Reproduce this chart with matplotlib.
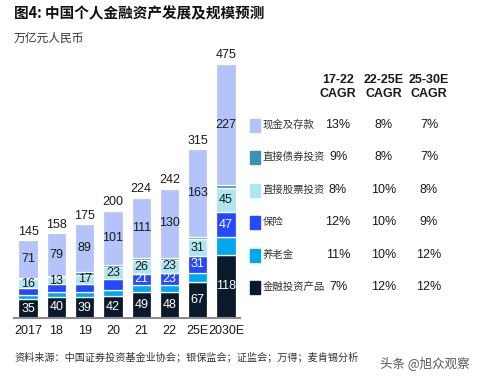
import matplotlib
matplotlib.use('Agg')
import matplotlib.pyplot as plt
import numpy as np

plt.rcParams['font.family'] = ['Liberation Sans', 'Noto Sans CJK SC', 'DejaVu Sans']

years = ['2017', '18', '19', '20', '21', '22', '25E', '2030E']
totals = [145, 158, 175, 200, 224, 242, 315, 475]

# stack order: bottom to top
fin_products = [35, 40, 39, 42, 49, 48, 67, 118]
pension = [8, 8, 9, 10, 13, 14, 18, 33]
insurance = [13, 15, 16, 21, 21, 23, 31, 47]
stocks = [16, 13, 17, 23, 26, 23, 31, 45]
bonds = [2, 3, 5, 3, 4, 4, 5, 5]
cash = [71, 79, 89, 101, 111, 130, 163, 227]

# which segment values get a label (None = no label)
ins_labels = [None, None, None, None, 21, 23, 31, 47]

legend_names = ['现金及存款', '直接债券投资', '直接股票投资', '保险', '养老金', '金融投资产品']
cagr_17_22 = ['13%', '9%', '8%', '12%', '11%', '7%']
cagr_22_25 = ['8%', '8%', '10%', '10%', '10%', '12%']
cagr_25_30 = ['7%', '7%', '8%', '9%', '12%', '12%']

c_cash = '#b4c4fb'
c_bond = '#3a93b0'
c_stock = '#ade6ee'
c_ins = '#2648ff'
c_pen = '#00a9ef'
c_fin = '#0b1a2b'

fig = plt.figure(figsize=(4.81, 3.81), dpi=100)
ax = fig.add_axes([0.0288, 0.1654, 0.4707, 0.702])

x = np.arange(len(years))
w = 0.68
series = [(fin_products, c_fin), (pension, c_pen), (insurance, c_ins),
          (stocks, c_stock), (bonds, c_bond), (cash, c_cash)]
bottom = np.zeros(len(years))
bottoms = []
for vals, col in series:
    ax.bar(x, vals, w, bottom=bottom, color=col, edgecolor='white', linewidth=0.9)
    bottoms.append(bottom.copy())
    bottom = bottom + np.array(vals)

lab_kw = dict(ha='center', va='center', fontsize=9)
for i in range(len(years)):
    ax.text(x[i], bottoms[0][i] + fin_products[i] / 2, str(fin_products[i]), color='white', **lab_kw)
    if ins_labels[i] is not None:
        ax.text(x[i], bottoms[2][i] + insurance[i] / 2, str(ins_labels[i]), color='white', **lab_kw)
    ax.text(x[i], bottoms[3][i] + stocks[i] / 2, str(stocks[i]), color='#1a1a1a', **lab_kw)
    ax.text(x[i], bottoms[5][i] + cash[i] / 2, str(cash[i]), color='#1a1a1a', **lab_kw)
    ax.text(x[i], bottom[i] + 5, str(totals[i]), ha='center', va='bottom', fontsize=9, color='#1a1a1a')

ax.set_xlim(-0.5, len(years) - 0.5)
ax.set_ylim(0, 500)
ax.set_xticks(x)
ax.set_xticklabels(years, fontsize=9, color='#1a1a1a')
ax.tick_params(axis='x', length=0, pad=5)
ax.set_yticks([])
for s in ['top', 'right', 'left']:
    ax.spines[s].set_visible(False)
ax.spines['bottom'].set_color('#8c8c8c')
ax.spines['bottom'].set_linewidth(1.5)

# title and unit
fig.text(14 / 481, 1 - 13 / 381, '图4: 中国个人金融资产发展及规模预测', fontsize=10.5, fontweight='bold',
         family=['Noto Sans CJK SC', 'DejaVu Sans'], va='center', ha='left', color='#111111')
fig.text(14 / 481, 1 - 38 / 381, '万亿元人民币', fontsize=8.5, family=['Noto Sans CJK SC'],
         va='center', ha='left', color='#333333')

# CAGR table with legend
col_x = [338, 384, 429]
heads = ['17-22', '22-25E', '25-30E']
for cx, h in zip(col_x, heads):
    fig.text(cx / 481, 1 - 80 / 381, h, fontsize=9, fontweight='bold', ha='center', va='center', color='#1a1a1a')
    fig.text(cx / 481, 1 - 94 / 381, 'CAGR', fontsize=9, fontweight='bold', ha='center', va='center', color='#1a1a1a')

row_y = [125, 157, 190, 222, 255, 287]
leg_cols = [c_cash, c_bond, c_stock, c_ins, c_pen, c_fin]
for i in range(6):
    yc = 1 - row_y[i] / 381
    fig.patches.append(plt.Rectangle((250 / 481, yc - 6.5 / 381), 10 / 481, 13 / 381,
                                     transform=fig.transFigure, color=leg_cols[i]))
    fig.text(263 / 481, yc, legend_names[i], fontsize=7.5, family=['Noto Sans CJK SC'],
             ha='left', va='center', color='#333333')
    for cx, v in zip(col_x, [cagr_17_22[i], cagr_22_25[i], cagr_25_30[i]]):
        fig.text(cx / 481, yc, v, fontsize=9, ha='center', va='center', color='#1a1a1a')

fig.text(14 / 481, 1 - 357 / 381, '资料来源：中国证券投资基金业协会；银保监会；证监会；万得；麦肯锡分析',
         fontsize=7.3, family=['Noto Sans CJK SC'], ha='left', va='center', color='#333333')
fig.text(380 / 481, 1 - 363 / 381, '头条 @旭众观察', fontsize=9, family=['Noto Sans CJK SC', 'DejaVu Sans'],
         ha='left', va='center', color='#555555')

fig.savefig('out.png', dpi=100)
